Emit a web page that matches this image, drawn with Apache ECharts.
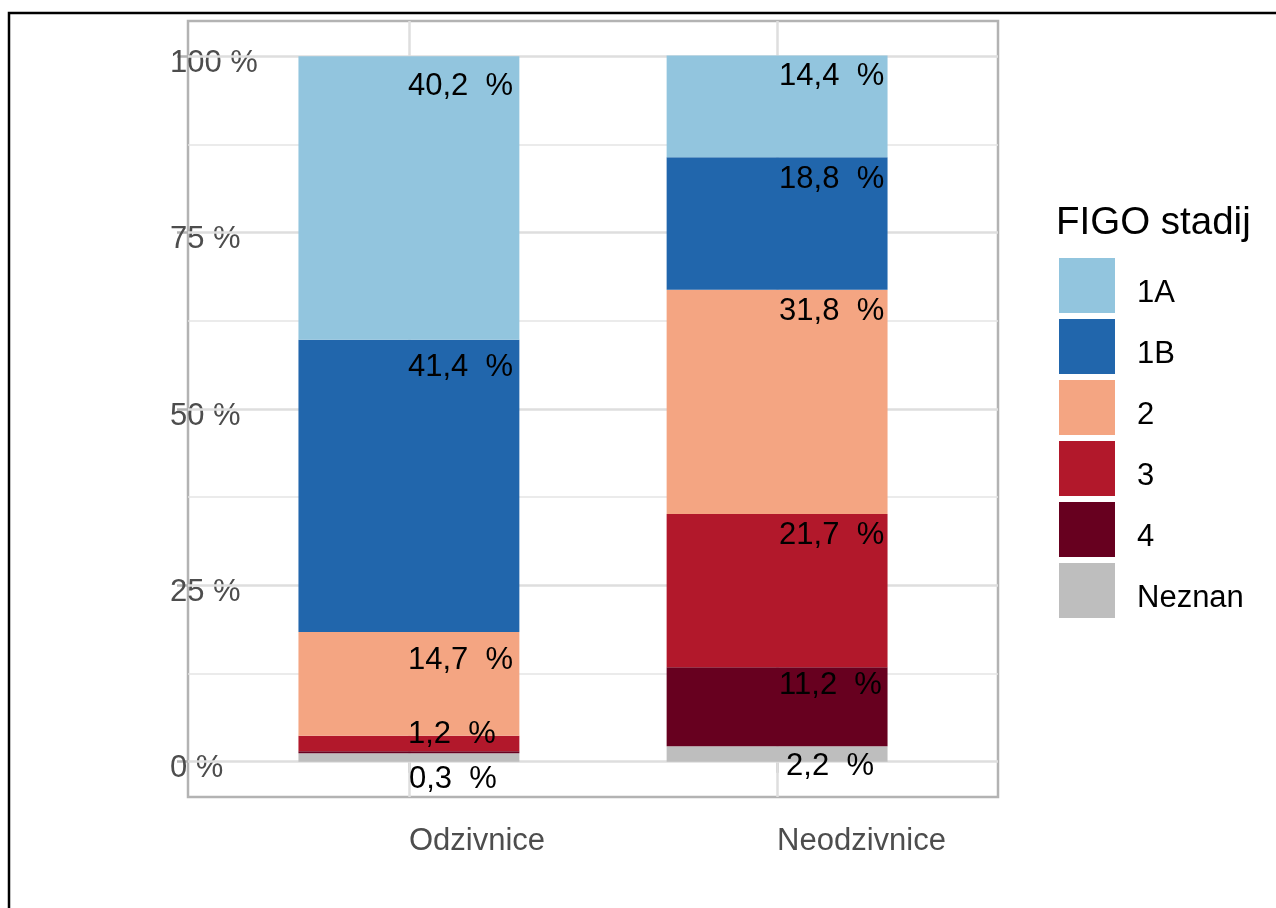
<!DOCTYPE html>
<html>
<head>
<meta charset="utf-8">
<script src="https://cdn.jsdelivr.net/npm/echarts@6/dist/echarts.min.js"></script>
<style>
  html, body { margin: 0; padding: 0; background: #ffffff; }
  #chart { width: 1276px; height: 908px; }
</style>
</head>
<body>
<div id="chart"></div>
<script>
// ---- data ----
const categories = ['Odzivnice', 'Neodzivnice'];
const stages = ['1A', '1B', '2', '3', '4', 'Neznan'];   // legend order (top of stack first)
const val1A = [40.2, 14.4];
const val1B = [41.4, 18.8];
const val2 = [14.7, 31.8];
const val3 = [2.2, 21.7];
const val4 = [0.3, 11.2];
const valNeznan = [1.2, 2.2];
const yTickValues = [0, 25, 50, 75, 100];
const yMinorValues = [12.5, 37.5, 62.5, 87.5];
const legendTitle = 'FIGO stadij';

// ---- styling ----
const FONT = 'Liberation Sans';
const stageColors = {
  '1A': '#92c5de', '1B': '#2166ac', '2': '#f4a582',
  '3': '#b2182b', '4': '#67001f', 'Neznan': '#bebebe'
};
// label nudges [dx, dy] (px) relative to the segment's top-centre; null = label not drawn
const labelNudge = {
  '1A': [[-1, 30.5], [2, 21]],
  '1B': [[-1, 27.5], [2, 22.5]],
  '2': [[-1, 28.5], [2, 22]],
  '3': [null, [2, 21.5]],
  '4': [[0, 28.5], [2, 18.5]],
  'Neznan': [[-1, -19], [9, 20.5]]
};
const valuesByStage = { '1A': val1A, '1B': val1B, '2': val2, '3': val3, '4': val4, 'Neznan': valNeznan };

const W = 1276;
const gridLeft = 188, gridRight = 278, gridTop = 21, gridBottom = 111;
const xMin = 0.4, xMax = 2.6;               // discrete-axis expansion of 0.6 on each side
const plotW = W - gridLeft - gridRight;
const unitPx = plotW / (xMax - xMin);
const barWidthPx = 0.6 * unitPx;
// bar grid: category bands of one unit centred on positions 1 and 2
const barGridLeft = gridLeft + (0.5 - xMin) * unitPx;
const barGridRight = W - (gridLeft + (categories.length + 0.5 - xMin) * unitPx);

function fmt(v) { return v.toFixed(1).replace('.', ',') + '  %'; }

const chart = echarts.init(document.getElementById('chart'), null, { renderer: 'canvas' });

// stack bottom -> top
const stackOrder = stages.slice().reverse();
const series = stackOrder.map((st) => {
  const vals = valuesByStage[st];
  return {
    name: st,
    type: 'bar',
    stack: 'total',
    xAxisIndex: 1,
    yAxisIndex: 1,
    barWidth: barWidthPx,
    itemStyle: { color: stageColors[st] },
    emphasis: { disabled: true },
    data: vals.map((v, ci) => {
      const nud = labelNudge[st][ci];
      return {
        value: v,
        label: nud ? {
          show: true,
          position: ['50%', 0],
          offset: nud,
          align: 'left',
          verticalAlign: 'middle',
          formatter: () => fmt(v),
          color: '#000000',
          fontFamily: FONT,
          fontSize: 31
        } : { show: false }
      };
    })
  };
});

const majorStyle = { color: '#dedede', width: 2.5, type: 'solid' };
const minorStyle = { color: '#e4e4e4', width: 1.5, type: 'solid' };
series.unshift({
  name: '__grid',
  type: 'line',
  xAxisIndex: 0,
  yAxisIndex: 0,
  data: [],
  silent: true,
  z: 1,
  markLine: {
    silent: true,
    animation: false,
    symbol: 'none',
    z: 1,
    label: { show: false },
    emphasis: { disabled: true },
    data: []
      .concat(yMinorValues.map(v => ({ yAxis: v, lineStyle: minorStyle })))
      .concat(yTickValues.map(v => ({ yAxis: v, lineStyle: majorStyle })))
      .concat(categories.map((c, i) => ({ xAxis: i + 1, lineStyle: majorStyle })))
  }
});

const axisTextStyle = { color: '#4d4d4d', fontFamily: FONT, fontSize: 31 };

const option = {
  animation: false,
  backgroundColor: '#ffffff',
  textStyle: { fontFamily: FONT },
  grid: [
    {
      left: gridLeft, right: gridRight, top: gridTop, bottom: gridBottom,
      show: true, borderColor: '#b3b3b3', borderWidth: 2.5, backgroundColor: 'transparent'
    },
    {
      left: barGridLeft, right: barGridRight, top: gridTop, bottom: gridBottom,
      show: false
    }
  ],
  title: {
    text: legendTitle,
    left: 1056, top: 204, padding: 0,
    textStyle: { fontFamily: FONT, fontSize: 38.5, fontWeight: 'normal', color: '#000000' }
  },
  legend: {
    orient: 'vertical',
    left: 1059, top: 258, padding: 0,
    itemWidth: 56, itemHeight: 55, itemGap: 6,
    icon: 'rect',
    selectedMode: false,
    data: stages,
    formatter: name => '\n' + name,
    textStyle: { fontFamily: FONT, fontSize: 31, lineHeight: 15, color: '#000000', padding: [0, 0, 0, 17] }
  },
  xAxis: [
    {
      type: 'value',
      gridIndex: 0,
      min: xMin, max: xMax,
      axisLine: { show: false },
      splitLine: { show: false },
      axisTick: { show: true, customValues: [1, 2], length: 11, lineStyle: { color: '#b3b3b3', width: 2.5 } },
      axisLabel: Object.assign({
        customValues: [1, 2],
        formatter: v => categories[Math.round(v) - 1] || '',
        align: 'left',
        margin: 29
      }, axisTextStyle)
    },
    {
      type: 'category',
      gridIndex: 1,
      data: categories,
      show: false
    }
  ],
  yAxis: [
    {
      type: 'value',
      gridIndex: 0,
      min: -5, max: 105,
      axisLine: { show: false },
      splitLine: { show: false },
      axisTick: { show: true, customValues: yTickValues, length: 11, lineStyle: { color: '#b3b3b3', width: 2.5 } },
      axisLabel: Object.assign({
        customValues: yTickValues,
        formatter: v => '\n' + v + ' %',
        align: 'left',
        margin: 18,
        verticalAlign: 'middle',
        lineHeight: 14
      }, axisTextStyle)
    },
    {
      type: 'value',
      gridIndex: 1,
      min: -5, max: 105,
      show: false
    }
  ],
  graphic: [{
    type: 'rect',
    silent: true,
    z: 100,
    shape: { x: 9, y: 13, width: 1400, height: 1000 },
    style: { fill: 'none', stroke: '#000000', lineWidth: 2.5 }
  }],
  series: series
};

chart.setOption(option);
</script>
</body>
</html>
